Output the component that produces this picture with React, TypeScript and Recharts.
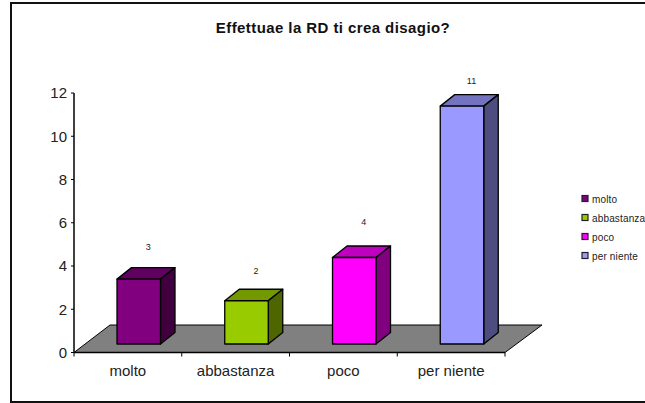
import { BarChart, Bar, XAxis, YAxis, LabelList, usePlotArea } from "recharts";

const categories = ["molto", "abbastanza", "poco", "per niente"];
const values = [3, 2, 4, 11];
const yTicks = [0, 2, 4, 6, 8, 10, 12];
const frontColors = ["#800080", "#99CC00", "#FF00FF", "#9999FF"];
const topColors = ["#600060", "#739900", "#BF00BF", "#7373BF"];
const sideColors = ["#400040", "#4D6600", "#800080", "#4D4D80"];
// how far each value label floats above its bar, in px
const labelGaps = [32.5, 29.5, 35.5, 25.5];

const chartData = categories.map((name, i) => ({ name, value: values[i], index: i }));

const FONT = "'Liberation Sans', Arial, sans-serif";
const BAR_SHIFT_X = 11;
const BAR_LIFT = 8.5;
const DEPTH_X = 14.5;
const DEPTH_Y = 11.5;

function Floor() {
  const plot = usePlotArea();
  if (!plot) return null;
  const left = plot.x;
  const right = plot.x + plot.width;
  const bottom = plot.y + plot.height;
  const points = [
    [left, bottom],
    [right, bottom],
    [right + 37, bottom - 27.5],
    [left + 36, bottom - 27.5],
  ];
  return <polygon points={points.map((p) => p.join(",")).join(" ")} fill="#808080" stroke="#000" strokeWidth={1} />;
}

function Bar3D(props: any) {
  const { x, y, width, height, payload } = props;
  const i = payload.index;
  const l = x + BAR_SHIFT_X;
  const r = l + width;
  const t = y - BAR_LIFT;
  const b = t + height;
  return (
    <g stroke="#000" strokeWidth={1.3} strokeLinejoin="round">
      <polygon
        points={`${l},${t} ${r},${t} ${r + DEPTH_X},${t - DEPTH_Y} ${l + DEPTH_X},${t - DEPTH_Y}`}
        fill={topColors[i]}
      />
      <polygon
        points={`${r},${t} ${r + DEPTH_X},${t - DEPTH_Y} ${r + DEPTH_X},${b - DEPTH_Y} ${r},${b}`}
        fill={sideColors[i]}
      />
      <rect x={l} y={t} width={width} height={height} fill={frontColors[i]} />
    </g>
  );
}

function ValueLabel(props: any) {
  const { x, y, width, value, index } = props;
  const frontTop = y - BAR_LIFT;
  return (
    <text
      x={x + width / 2 + BAR_SHIFT_X + 9.5}
      y={frontTop - labelGaps[index] + 3}
      textAnchor="middle"
      fontSize={9}
      fontFamily={FONT}
      fill="#222"
    >
      {value}
    </text>
  );
}

function CategoryTick(props: any) {
  const { x, y, payload, index } = props;
  const band = 107.75;
  return (
    <g>
      {index === 0 && <line x1={x - band / 2} y1={y - 8} x2={x - band / 2} y2={y - 4} stroke="#000" />}
      <line x1={x + band / 2} y1={y - 8} x2={x + band / 2} y2={y - 4} stroke="#000" />
      <text x={x} y={y + 15} textAnchor="middle" fontSize={15} fontFamily={FONT} fill="#222">
        {payload.value}
      </text>
    </g>
  );
}

function LegendBlock() {
  return (
    <g>
      {categories.map((name, i) => (
        <g key={name}>
          <rect x={582} y={195.5 + i * 19} width={6} height={6} fill={frontColors[i]} stroke="#222" strokeWidth={1.2} />
          <text x={592} y={202.5 + i * 19} fontSize={10} letterSpacing={0.15} fontFamily={FONT} fill="#222">
            {name}
          </text>
        </g>
      ))}
    </g>
  );
}

export default function App() {
  return (
    <div style={{ position: "fixed", left: 0, top: 0, width: 645, height: 403, overflow: "hidden", background: "#fff" }}>
      <div style={{ position: "absolute", left: 10, top: 2, width: 660, height: 397, border: "2px solid #111" }} />
      <div style={{ position: "absolute", left: 0, top: 0 }}>
        <BarChart
          width={645}
          height={403}
          data={chartData}
          margin={{ top: 93, right: 140, bottom: 20.5, left: 14 }}
          barCategoryGap="30%"
        >
          <Floor />
          <text
            x={333}
            y={32.5}
            textAnchor="middle"
            fontSize={15}
            letterSpacing={0.42}
            fontWeight="bold"
            fontFamily={FONT}
            fill="#111"
          >
            Effettuae la RD ti crea disagio?
          </text>
          <XAxis
            dataKey="name"
            height={30}
            tickLine={false}
            axisLine={{ stroke: "#000", strokeWidth: 1.5 }}
            tick={<CategoryTick />}
            interval={0}
          />
          <YAxis
            width={60}
            domain={[0, 12]}
            ticks={yTicks}
            tickSize={3}
            tickMargin={4}
            axisLine={{ stroke: "#000", strokeWidth: 1.5 }}
            tickLine={{ stroke: "#000" }}
            tick={{ fontSize: 15, fontFamily: FONT, fill: "#222" }}
          />
          <Bar dataKey="value" barSize={43.5} shape={<Bar3D />} isAnimationActive={false}>
            <LabelList dataKey="value" content={<ValueLabel />} />
          </Bar>
          <LegendBlock />
        </BarChart>
      </div>
    </div>
  );
}
